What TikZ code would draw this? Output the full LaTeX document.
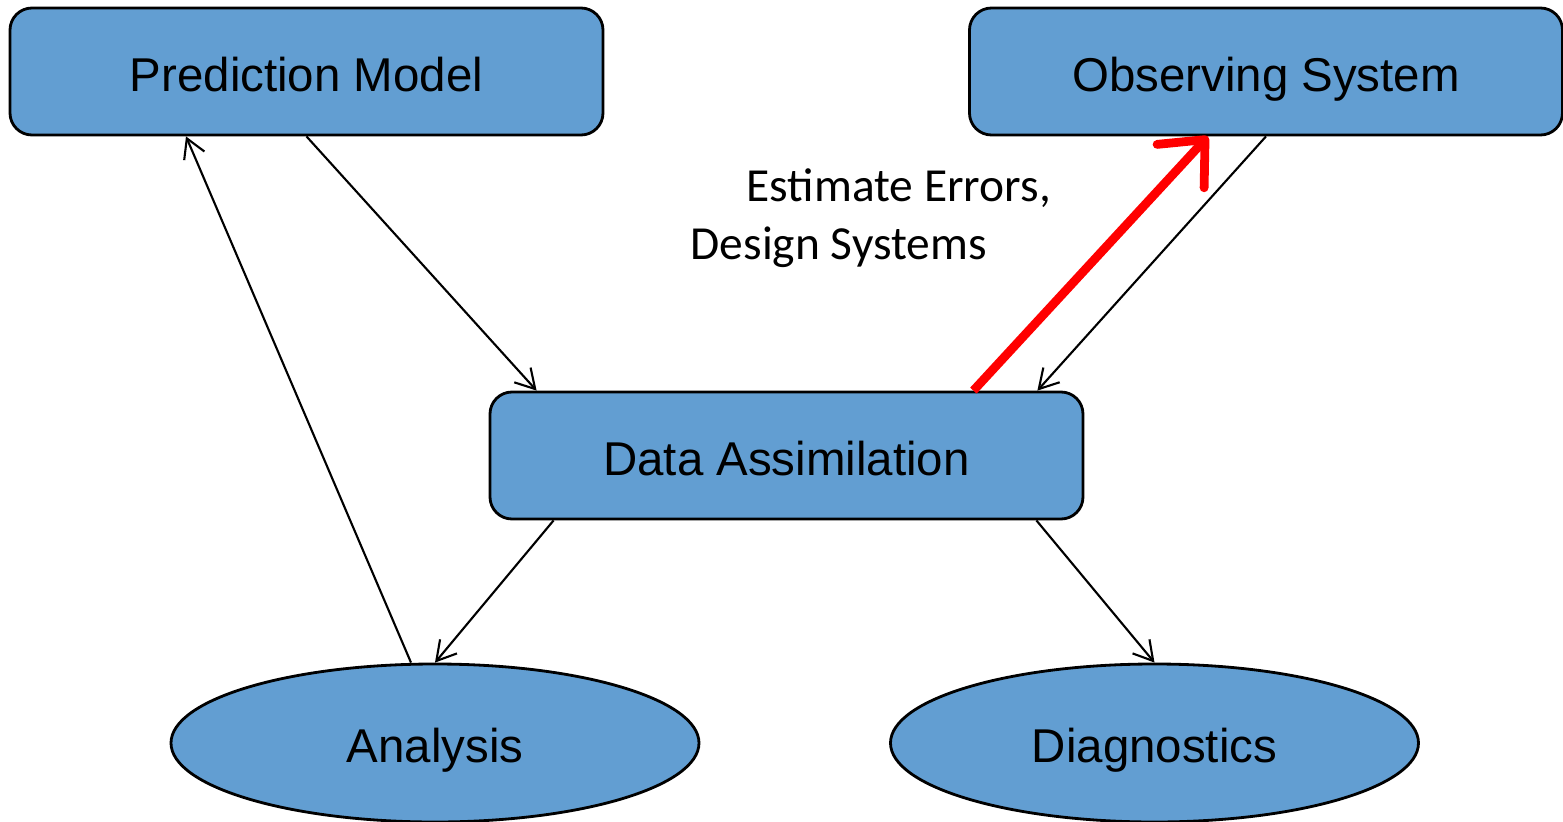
\documentclass[tikz,border=0pt]{standalone}
\usepackage{fontspec}
\setmainfont{Liberation Sans}
\newfontfamily\calfont{Carlito}
\usetikzlibrary{shapes.geometric,arrows.meta}
\definecolor{boxblue}{RGB}{98,158,210}
\begin{document}
\begin{tikzpicture}[
  every node/.style={font=\fontsize{13.5}{16.5}\selectfont},
  box/.style={draw,line width=0.8pt,fill=boxblue,rounded corners=0.22cm,minimum width=5.93cm,minimum height=1.27cm,text height=0.5cm,text depth=0.11cm},
  oval/.style={draw,line width=0.8pt,fill=boxblue,ellipse,minimum width=5.28cm,minimum height=1.58cm,text height=0.5cm,text depth=0.11cm},
  link/.style={line width=0.6pt,-{Straight Barb[length=1.9mm,width=2.2mm]}}]
  \useasboundingbox (0,0) rectangle (15.63,-8.22);
  \node[box] (pm) at (3.065,-0.715) {Prediction Model};
  \node[box] (os) at (12.66,-0.715) {Observing System};
  \node[box] (da) at (7.865,-4.555) {Data Assimilation};
  \node[oval] (an) at (4.35,-7.43) {Analysis};
  \node[oval] (dg) at (11.545,-7.43) {Diagnostics};
  \node[anchor=north west,align=left,inner sep=0pt,font=\calfont\fontsize{13.5}{16.5}\selectfont] (note) at (6.90,-1.68) {\hspace*{0.56cm}Estimate Errors,\\Design Systems};
  \draw[link] (pm.south) -- ([xshift=0.48cm]da.north west);
  \draw[link] ([xshift=-0.24cm]an.north) -- ([xshift=-1.205cm]pm.south);
  \draw[link] ([xshift=0.65cm]da.south west) -- (an.north);
  \draw[link] ([xshift=-0.48cm]da.south east) -- (dg.north);
  \draw[link] (os.south) -- ([xshift=-0.47cm]da.north east);
  \draw[red,line width=2.5pt,-{Straight Barb[length=3.6mm,width=6.4mm,round]}] ([xshift=-1.11cm]da.north east) -- ([xshift=-0.58cm]os.south);
\end{tikzpicture}
\end{document}
